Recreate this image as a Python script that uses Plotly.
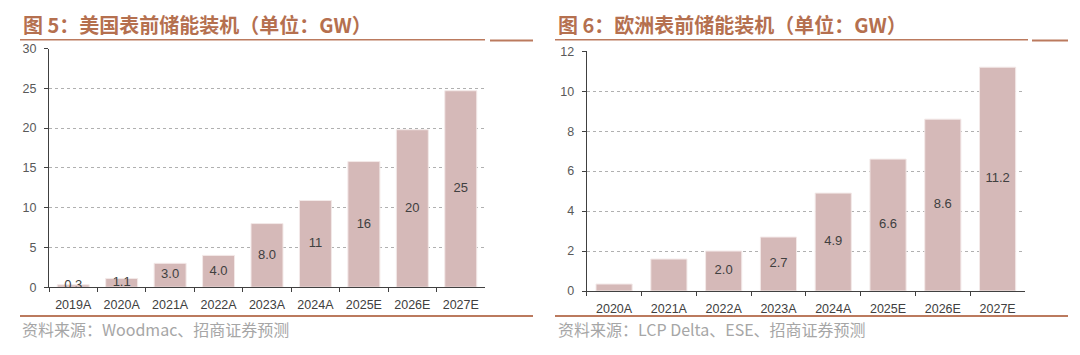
import plotly.graph_objects as go

W, H = 1080, 355

# ---- data ----
us_categories = ["2019A", "2020A", "2021A", "2022A", "2023A", "2024A", "2025E", "2026E", "2027E"]
us_values = [0.3, 1.1, 3.0, 4.0, 8.0, 10.9, 15.8, 19.8, 24.7]
us_labels = ["0.3", "1.1", "3.0", "4.0", "8.0", "11", "16", "20", "25"]

eu_categories = ["2020A", "2021A", "2022A", "2023A", "2024A", "2025E", "2026E", "2027E"]
eu_values = [0.35, 1.6, 2.0, 2.7, 4.9, 6.6, 8.6, 11.2]
eu_labels = ["", "", "2.0", "2.7", "4.9", "6.6", "8.6", "11.2"]

us_yticks = [0, 5, 10, 15, 20, 25, 30]
eu_yticks = [0, 2, 4, 6, 8, 10, 12]

title_left = "图 5：美国表前储能装机（单位：GW）"
title_right = "图 6：欧洲表前储能装机（单位：GW）"
source_left = "资料来源：Woodmac、招商证券预测"
source_right = "资料来源：LCP Delta、ESE、招商证券预测"

BAR = "#d5b9b8"
RULE = "#bb7a5e"
TITLE = "#b5704f"
FONT = "Noto Sans CJK SC, Liberation Sans, Arial, sans-serif"
LAT = "Liberation Sans, Arial, sans-serif"


def px(x):
    return x / W


def py(y):
    return 1 - y / H


fig = go.Figure()

fig.add_trace(go.Bar(x=us_categories, y=us_values, marker=dict(color=BAR, line=dict(color="#f3e9e8", width=1)),
                     width=0.66, xaxis="x", yaxis="y", hoverinfo="skip"))
fig.add_trace(go.Scatter(x=us_categories, y=[v / 2 for v in us_values], text=us_labels, mode="text",
                         textfont=dict(size=13, color="#404040", family=LAT),
                         xaxis="x", yaxis="y", hoverinfo="skip"))
fig.add_trace(go.Bar(x=eu_categories, y=eu_values, marker=dict(color=BAR, line=dict(color="#f3e9e8", width=1)),
                     width=0.66, xaxis="x2", yaxis="y2", hoverinfo="skip"))
fig.add_trace(go.Scatter(x=eu_categories, y=[v / 2 for v in eu_values], text=eu_labels, mode="text",
                         textfont=dict(size=13, color="#404040", family=LAT),
                         xaxis="x2", yaxis="y2", hoverinfo="skip"))

axis_common_x = dict(showline=True, linecolor="#404040", linewidth=1, ticks="outside", tickson="boundaries",
                     ticklen=4, tickcolor="#404040", showgrid=False, type="category", ticklabelstandoff=6,
                     tickfont=dict(size=12.5, color="#404040", family=LAT), fixedrange=True)
axis_common_y = dict(showline=True, linecolor="#404040", linewidth=1, ticks="outside", ticklen=4,
                     tickcolor="#404040", showgrid=True, gridcolor="#b0b0b0", griddash="dot", gridwidth=1,
                     zeroline=False, tickfont=dict(size=12.5, color="#595959", family=LAT),
                     ticklabelstandoff=5, fixedrange=True)

fig.update_layout(
    width=W, height=H,
    margin=dict(l=0, r=0, t=0, b=0),
    paper_bgcolor="white", plot_bgcolor="white",
    showlegend=False,
    xaxis=dict(axis_common_x, domain=[px(49), px(485)], anchor="y"),
    yaxis=dict(axis_common_y, domain=[py(291.7), py(43.3)], range=[0, 30], tickvals=us_yticks, anchor="x"),
    xaxis2=dict(axis_common_x, domain=[px(586.7), px(1025)], anchor="y2"),
    yaxis2=dict(axis_common_y, domain=[py(295.7), py(46)], range=[0, 12], tickvals=eu_yticks, anchor="x2"),
)

shapes = []
for x0, x1, xe0, xe1 in [(20, 485, 490, 533), (555, 1028, 1032, 1068)]:
    shapes.append(dict(type="line", xref="paper", yref="paper", x0=px(x0), x1=px(x1), y0=py(34), y1=py(34),
                       line=dict(color=RULE, width=1.5)))
    shapes.append(dict(type="line", xref="paper", yref="paper", x0=px(xe0), x1=px(xe1), y0=py(35), y1=py(35),
                       line=dict(color=RULE, width=2)))
    shapes.append(dict(type="line", xref="paper", yref="paper", x0=px(x0), x1=px(xe1), y0=py(321.7), y1=py(321.7),
                       line=dict(color=RULE, width=2)))
fig.update_layout(shapes=shapes)

annotations = [
    dict(text="<b>" + title_left + "</b>", x=px(21), y=py(18), xref="paper", yref="paper", xanchor="left",
         yanchor="middle", showarrow=False, font=dict(size=20, color=TITLE, family=FONT)),
    dict(text="<b>" + title_right + "</b>", x=px(556), y=py(18), xref="paper", yref="paper", xanchor="left",
         yanchor="middle", showarrow=False, font=dict(size=20, color=TITLE, family=FONT)),
    dict(text=source_left, x=px(20), y=py(335), xref="paper", yref="paper", xanchor="left",
         yanchor="middle", showarrow=False, font=dict(size=16, color="#a6a6a6", family=FONT)),
    dict(text=source_right, x=px(556), y=py(335), xref="paper", yref="paper", xanchor="left",
         yanchor="middle", showarrow=False, font=dict(size=16, color="#a6a6a6", family=FONT)),
]
fig.update_layout(annotations=annotations)

fig.write_html("out.html", config={"displayModeBar": False},
               post_script="document.body.style.margin='0';document.body.style.overflow='hidden';")
